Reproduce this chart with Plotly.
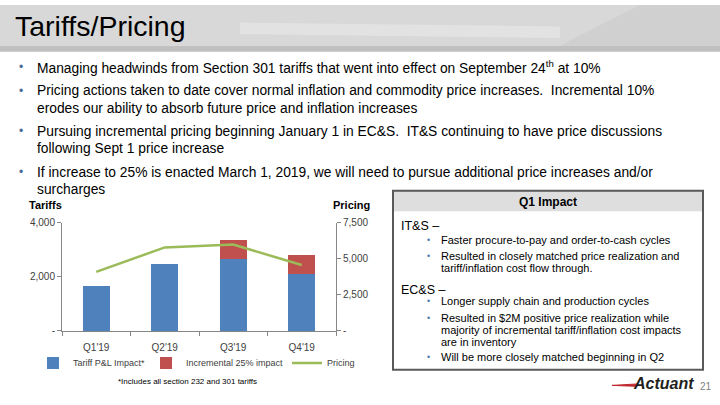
import plotly.graph_objects as go

W, H = 720, 405

# ---------------- data ----------------
quarters = ["Q1'19", "Q2'19", "Q3'19", "Q4'19"]
tariff_pl = [1650, 2490, 2650, 2100]
incremental_25 = [0, 0, 700, 710]
pricing = [4100, 5800, 6000, 4575]

left_ticks = [0, 2000, 4000]
left_tick_text = ["-", "2,000", "4,000"]
right_ticks = [0, 2500, 5000, 7500]
right_tick_text = ["-", "2,500", "5,000", "7,500"]

bullets = [
    ["Managing headwinds from Section 301 tariffs that went into effect on September 24<sup>th</sup> at 10%"],
    ["Pricing actions taken to date cover normal inflation and commodity price increases.  Incremental 10%",
     "erodes our ability to absorb future price and inflation increases"],
    ["Pursuing incremental pricing beginning January 1 in EC&S.  IT&S continuing to have price discussions",
     "following Sept 1 price increase"],
    ["If increase to 25% is enacted March 1, 2019, we will need to pursue additional price increases and/or",
     "surcharges"],
]

box_lines = [
    ("head", "IT&S \u2013", 227),
    ("bul", "Faster procure-to-pay and order-to-cash cycles", 242),
    ("bul", "Resulted in closely matched price realization and", 258),
    ("cont", "tariff/inflation cost flow through.", 270),
    ("head", "EC&S \u2013", 293),
    ("bul", "Longer supply chain and production cycles", 304),
    ("bul", "Resulted in $2M positive price realization while", 322),
    ("cont", "majority of incremental tariff/inflation cost impacts", 334),
    ("cont", "are in inventory", 346),
    ("bul", "Will be more closely matched beginning in Q2", 362),
]


def px(x):
    return x / W


def py(y):
    return 1 - y / H


BLUE = "#4f81bd"
RED = "#c0504d"
GREEN = "#9bbb59"
AX = "#868686"
TXT = "#404040"

fig = go.Figure()
fig.add_trace(go.Bar(x=quarters, y=tariff_pl, name="Tariff P&L Impact*", legend="legend",
                     marker=dict(color=BLUE, line=dict(width=0)), width=0.39))
fig.add_trace(go.Bar(x=quarters, y=incremental_25, name="Incremental 25% impact", legend="legend2",
                     marker=dict(color=RED, line=dict(width=0)), width=0.39))
fig.add_trace(go.Scatter(x=quarters, y=pricing, name="Pricing", mode="lines", legend="legend3",
                         line=dict(color=GREEN, width=2.5), yaxis="y2"))

x0, x1 = 62, 336
ytop, ybot = 224, 335


def leg(xpx):
    return dict(orientation="h", x=px(xpx), y=py(353), xanchor="left", yanchor="top",
                font=dict(size=9, color=TXT), bgcolor="rgba(0,0,0,0)", itemwidth=30)


fig.update_layout(
    width=W, height=H, margin=dict(l=0, r=0, t=0, b=0),
    paper_bgcolor="white", plot_bgcolor="white",
    barmode="stack", bargap=0.61,
    font=dict(family="Liberation Sans, Arial, sans-serif", size=10, color=TXT),
    xaxis=dict(domain=[px(x0), px(x1)], showgrid=False, showline=True,
               linecolor=AX, linewidth=1, ticks="outside", tickson="boundaries",
               ticklen=4, tickcolor=AX, ticklabelstandoff=7,
               tickfont=dict(size=10, color=TXT)),
    yaxis=dict(domain=[py(ybot), py(ytop)], range=[0, 4000], tickvals=left_ticks,
               ticktext=left_tick_text, showgrid=False, showline=True, linecolor=AX,
               ticks="outside", ticklen=4, tickcolor=AX, zeroline=False,
               tickfont=dict(size=10, color=TXT)),
    yaxis2=dict(overlaying="y", side="right", range=[0, 7500], tickvals=right_ticks,
                ticktext=right_tick_text, showgrid=False, showline=True, linecolor=AX,
                ticks="outside", ticklen=4, tickcolor=AX, zeroline=False,
                anchor="x", tickfont=dict(size=10, color=TXT)),
    legend=leg(33),
    legend2=leg(146),
    legend3=leg(287),
    showlegend=True,
)

shapes = []
# title band
shapes.append(dict(type="rect", xref="paper", yref="paper", x0=0, x1=1, y0=py(42), y1=1,
                   fillcolor="#d8d8d8", line=dict(width=0), layer="below"))
shapes.append(dict(type="path", xref="paper", yref="paper",
                   path=f"M {px(240)},{py(18)} L {px(560)},{py(22)} L {px(560)},{py(34)} L {px(240)},{py(30)} Z",
                   fillcolor="rgba(255,255,255,0.25)", line=dict(width=0), layer="below"))
shapes.append(dict(type="path", xref="paper", yref="paper",
                   path=f"M {px(560)},{py(42)} L {px(640)},{py(0)} L {px(720)},{py(0)} L {px(720)},{py(42)} Z",
                   fillcolor="rgba(200,200,200,0.5)", line=dict(width=0), layer="below"))
shapes.append(dict(type="rect", xref="paper", yref="paper", x0=0, x1=1, y0=py(48), y1=py(42),
                   fillcolor="#c0c0c0", line=dict(width=0), layer="below"))
# box
shapes.append(dict(type="rect", xref="paper", yref="paper", x0=px(393), x1=px(703),
                   y0=py(212), y1=py(191), fillcolor="#dedede", line=dict(width=0)))
shapes.append(dict(type="rect", xref="paper", yref="paper", x0=px(393), x1=px(703),
                   y0=py(375), y1=py(191), fillcolor="rgba(0,0,0,0)",
                   line=dict(color="#595959", width=2)))
# logo swoosh
shapes.append(dict(type="path", xref="paper", yref="paper",
                   path=f"M {px(612)},{py(391)} L {px(638)},{py(389.5)} L {px(637)},{py(392)} Z",
                   fillcolor="#c0272d", line=dict(color="#c0272d", width=1)))
fig.update_layout(shapes=shapes)

ann = []
ann.append(dict(text="Tariffs/Pricing", x=px(13), y=py(22), xref="paper", yref="paper",
                xanchor="left", yanchor="middle", showarrow=False,
                font=dict(family="Liberation Sans, Arial", size=28.5, color="#000000")))

line_ys = [[64], [88, 106], [130, 148], [172, 190]]
for lines, ys in zip(bullets, line_ys):
    ann.append(dict(text="\u2022", x=px(17), y=py(ys[0]), xref="paper", yref="paper",
                    xanchor="left", yanchor="middle", showarrow=False,
                    font=dict(family="Liberation Sans, Arial", size=12, color="#4a6a9a")))
    for t, yy in zip(lines, ys):
        ann.append(dict(text=t, x=px(35), y=py(yy), xref="paper", yref="paper",
                        xanchor="left", yanchor="middle", showarrow=False,
                        font=dict(family="Liberation Sans, Arial", size=13.8, color="#000000")))

# axis titles
ann.append(dict(text="<b>Tariffs</b>", x=px(27), y=py(206), xref="paper", yref="paper",
                xanchor="left", yanchor="middle", showarrow=False,
                font=dict(size=11, color="#000000")))
ann.append(dict(text="<b>Pricing</b>", x=px(372), y=py(206), xref="paper", yref="paper",
                xanchor="right", yanchor="middle", showarrow=False,
                font=dict(size=11, color="#000000")))
ann.append(dict(text="*Includes all section 232 and 301 tariffs", x=px(187), y=py(387),
                xref="paper", yref="paper", xanchor="center", yanchor="middle",
                showarrow=False, font=dict(size=8, color="#000000")))

# box content
ann.append(dict(text="<b>Q1 Impact</b>", x=px(548), y=py(202), xref="paper", yref="paper",
                xanchor="center", yanchor="middle", showarrow=False,
                font=dict(family="Liberation Sans, Arial", size=12, color="#000000")))
for kind, t, yy in box_lines:
    if kind == "head":
        ann.append(dict(text=t, x=px(399), y=py(yy), xref="paper", yref="paper",
                        xanchor="left", yanchor="middle", showarrow=False,
                        font=dict(family="Liberation Sans, Arial", size=12.5, color="#000000")))
    else:
        if kind == "bul":
            ann.append(dict(text="\u2022", x=px(425), y=py(yy), xref="paper", yref="paper",
                            xanchor="left", yanchor="middle", showarrow=False,
                            font=dict(family="Liberation Sans, Arial", size=9, color="#4a7ab0")))
        ann.append(dict(text=t, x=px(439), y=py(yy), xref="paper", yref="paper",
                        xanchor="left", yanchor="middle", showarrow=False,
                        font=dict(family="Liberation Sans, Arial", size=11, color="#000000")))

# logo & page number
ann.append(dict(text="<b><i>Actuant</i></b>", x=px(631), y=py(389), xref="paper", yref="paper",
                xanchor="left", yanchor="middle", showarrow=False,
                font=dict(family="Liberation Sans, Arial", size=16, color="#231f20")))
ann.append(dict(text="21", x=px(714), y=py(392), xref="paper", yref="paper",
                xanchor="right", yanchor="middle", showarrow=False,
                font=dict(family="Liberation Sans, Arial", size=10, color="#7f7f7f")))

fig.update_layout(annotations=ann)

fig.write_html("out.html", config={"displayModeBar": False},
               post_script="document.body.style.margin='0';")
